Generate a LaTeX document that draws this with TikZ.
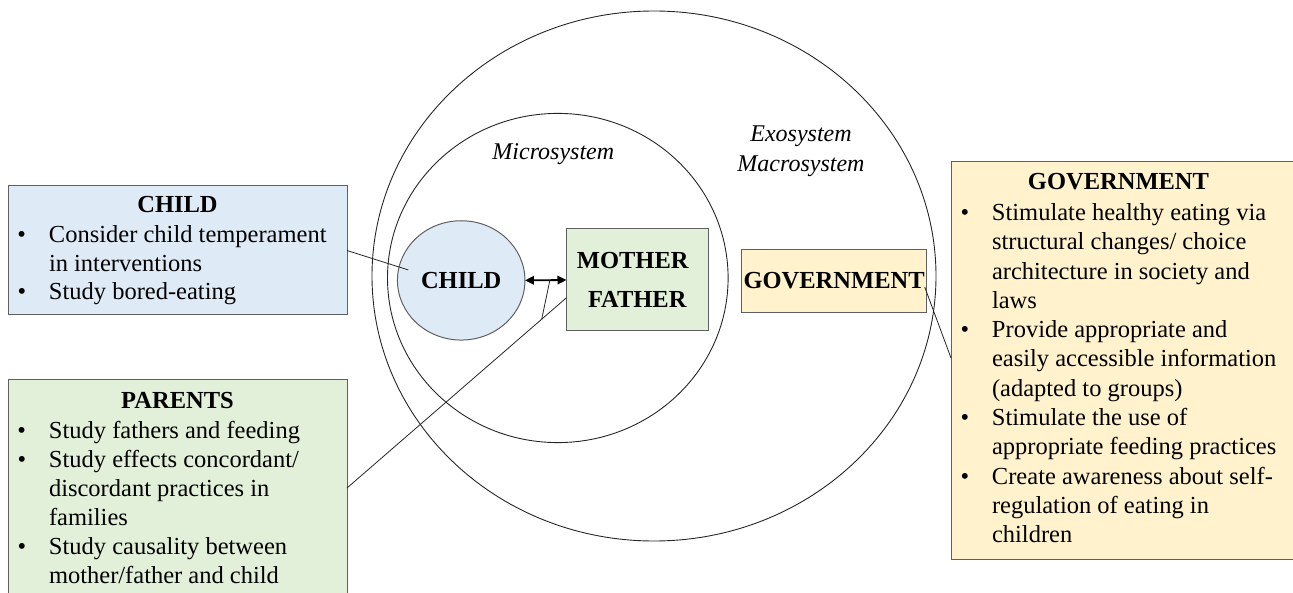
\documentclass[tikz,border=0pt]{standalone}
\usepackage{fontspec}
\setmainfont{Liberation Serif}
\usetikzlibrary{arrows.meta,shapes.geometric}
\definecolor{cblue}{RGB}{222,235,247}
\definecolor{cgreen}{RGB}{226,240,217}
\definecolor{cyellow}{RGB}{255,242,204}
\definecolor{cedge}{RGB}{96,96,96}
\newcommand\bitem[1]{\makebox[41pt][l]{\hspace*{9.5pt}\textbullet}#1}
\newcommand\bcont[1]{\hspace*{41pt}#1}
\begin{document}
\begin{tikzpicture}[x=1pt,y=-1pt,
  every node/.style={font=\fontsize{24.5}{29}\selectfont, inner sep=0pt, outer sep=0pt},
  box/.style={draw=cedge, line width=1pt, rectangle, anchor=north west},
  ring/.style={draw=black!85, line width=0.9pt, ellipse},
  link/.style={draw=black!85, line width=0.8pt},
  txt/.style={align=left, anchor=base west},
  sys/.style={font=\fontsize{24}{29}\selectfont\itshape, align=center, anchor=base},
  duplex/.style={line width=1.8pt, {Triangle[length=9pt,width=8.5pt]}-{Triangle[length=9pt,width=8.5pt]}}
]
\useasboundingbox (0,0) rectangle (1293,593);
\clip (0,0) rectangle (1293,593);

% system rings
\node[ring, minimum width=564pt, minimum height=530pt] (outer) at (654,276) {};
\node[ring, minimum width=340.6pt, minimum height=329.2pt] (micro) at (557.8,278) {};

% labels of the systems (base = last line)
\node[sys] (microlbl) at (553.3,160) {Microsystem};
\node[sys] (exolbl) at (801,172) {Exosystem\\[1.5pt]Macrosystem};

% inner actors
\node[ellipse, draw=cedge, fill=cblue, line width=1pt, minimum width=127.5pt, minimum height=119.3pt,
      font=\fontsize{24.5}{29}\selectfont\bfseries] (childc) at (461.2,280.4) {CHILD};
\node[box, fill=cgreen, anchor=center, minimum width=141.5pt, minimum height=102pt, align=center,
      font=\fontsize{24.5}{29}\selectfont\bfseries] (mf) at (637.25,280) {MOTHER\hspace*{9pt}\\[10pt]FATHER};
\node[box, fill=cyellow, anchor=center, minimum width=185.2pt, minimum height=63.4pt,
      font=\fontsize{24.5}{29}\selectfont\bfseries] (govbox) at (834.1,281) {GOVERNMENT};

% side boxes
\node[box, fill=cblue, minimum width=339pt, minimum height=129pt] (childbox) at (8,186) {};
\node[box, fill=cgreen, minimum width=339pt, minimum height=216pt] (parbox) at (8,380) {};
\node[box, fill=cyellow, minimum width=360pt, minimum height=397.5pt] (govlist) at (951,161.5) {};

\node[txt, font=\fontsize{24.5}{28.5}\selectfont] (childtxt) at (8,300)
  {\makebox[339pt]{\bfseries CHILD}\\[1.5pt]
   \bitem{Consider child temperament}\\
   \bcont{in interventions}\\
   \bitem{Study bored-eating}};

\node[txt, font=\fontsize{24.5}{29}\selectfont] (partxt) at (8,583)
  {\makebox[339pt]{\bfseries PARENTS}\\[1pt]
   \bitem{Study fathers and feeding}\\
   \bitem{Study effects concordant/}\\
   \bcont{discordant practices in}\\
   \bcont{families}\\
   \bitem{Study causality between}\\
   \bcont{mother/father and child}};

\node[txt, font=\fontsize{24.5}{29.3}\selectfont] (govtxt) at (951,542.7)
  {\makebox[335pt]{\bfseries GOVERNMENT}\\[1.4pt]
   \bitem{Stimulate healthy eating via}\\
   \bcont{structural changes/ choice}\\
   \bcont{architecture in society and}\\
   \bcont{laws}\\
   \bitem{Provide appropriate and}\\
   \bcont{easily accessible information}\\
   \bcont{(adapted to groups)}\\
   \bitem{Stimulate the use of}\\
   \bcont{appropriate feeding practices}\\
   \bitem{Create awareness about self-}\\
   \bcont{regulation of eating in}\\
   \bcont{children}};

% connectors
\draw[link] (childbox.east) -- ([shift={(-53,-10.5)}]childc.center);
\draw[link] (parbox.east) -- coordinate[pos=0.887] (tick) ([yshift=-17.7pt]mf.west);
\draw[duplex] (childc.east) -- coordinate[pos=0.6] (amid) (mf.west);
\draw[link] (amid) -- (tick);
\draw[link] ([xshift=-2pt,yshift=-6pt]govbox.east) -- ([yshift=2.25pt]govlist.west);
\end{tikzpicture}
\end{document}
